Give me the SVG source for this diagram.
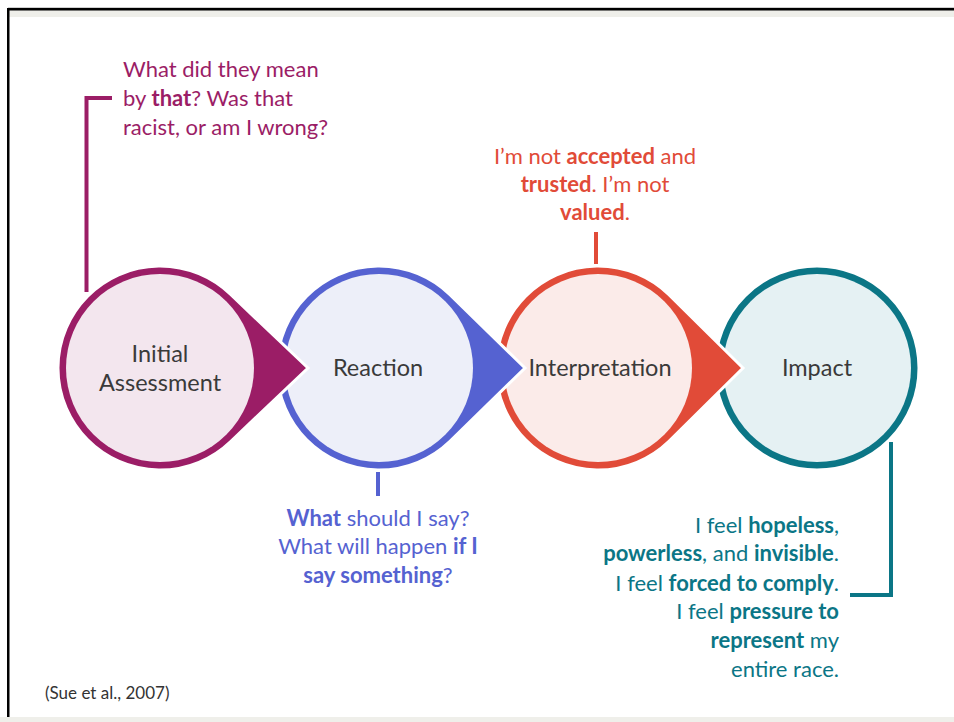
<svg xmlns="http://www.w3.org/2000/svg" width="954" height="722" viewBox="0 0 954 722">
<defs>
<style>
.t{font-family:Lato,"Open Sans","Liberation Sans",sans-serif;font-size:22px}
.b{font-weight:700}
.lbl{font-family:Lato,"Open Sans","Liberation Sans",sans-serif;font-size:23.5px;fill:#3a3a3a;text-anchor:middle}
.tail{stroke:#ffffff;stroke-width:3}
.conn{fill:none;stroke-width:4}
</style>
</defs>
<rect x="0" y="0" width="954" height="722" fill="#ffffff"/>
<g id="frame">
<rect x="8" y="7" width="946" height="1" fill="#cfcfcf"/>
<rect x="8" y="10" width="946" height="7" fill="#efefea"/>
<rect x="0" y="717" width="954" height="5" fill="#efefea"/>
<rect x="7" y="8" width="947" height="2.5" fill="#000000"/>
<rect x="7" y="8" width="2.5" height="709" fill="#000000"/>
</g>
<g id="connectors">
<path class="conn" stroke="#9b1d66" d="M86.5,292 V98 H112"/>
<path class="conn" stroke="#5562d1" d="M378,472 V496"/>
<path class="conn" stroke="#e14b38" d="M596,232 V264"/>
<path class="conn" stroke="#0b7686" d="M891,442 V595 H850"/>
</g>
<g id="impact">
<circle cx="817" cy="368" r="102" fill="#0b7686" stroke="#ffffff" stroke-width="3"/>
<circle cx="817" cy="368" r="94" fill="#e5f1f3"/>
<text class="lbl" x="817" y="376">Impact</text>
</g>
<g id="interpretation">
<path class="tail" fill="#e14b38" d="M743,368 L668.7,294.5 A102,102 0 1 0 668.7,441.5 Z"/>
<circle cx="598" cy="368" r="94" fill="#fbebe9"/>
<text class="lbl" x="600" y="376">Interpretation</text>
</g>
<g id="reaction">
<path class="tail" fill="#5562d1" d="M525,368 L449.7,294.5 A102,102 0 1 0 449.7,441.5 Z"/>
<circle cx="379" cy="368" r="94" fill="#edeff9"/>
<text class="lbl" x="378" y="376">Reaction</text>
</g>
<g id="initial-assessment">
<path class="tail" fill="#9b1d66" d="M308,368 L230.7,294.5 A102,102 0 1 0 230.7,441.5 Z"/>
<circle cx="160" cy="368" r="94" fill="#f3e6ee"/>
<text class="lbl" x="160" y="362">Initial</text>
<text class="lbl" x="160" y="391">Assessment</text>
</g>
<g id="note-initial" class="t" fill="#9b1d66">
<text x="123" y="77">What did they mean</text>
<text x="123" y="106">by <tspan class="b">that</tspan>? Was that</text>
<text x="123" y="135">racist, or am I wrong?</text>
</g>
<g id="note-interpretation" class="t" fill="#e14b38" text-anchor="middle">
<text x="595" y="164">I’m not <tspan class="b">accepted</tspan> and</text>
<text x="595" y="192"><tspan class="b">trusted</tspan>. I’m not</text>
<text x="595" y="220"><tspan class="b">valued</tspan>.</text>
</g>
<g id="note-reaction" class="t" fill="#5562d1" text-anchor="middle">
<text x="378" y="526"><tspan class="b">What</tspan> should I say?</text>
<text x="378" y="554">What will happen <tspan class="b">if I</tspan></text>
<text x="378" y="583"><tspan class="b">say something</tspan>?</text>
</g>
<g id="note-impact" class="t" fill="#0b7686" text-anchor="end">
<text x="839" y="533">I feel <tspan class="b">hopeless</tspan>,</text>
<text x="839" y="561"><tspan class="b">powerless</tspan>, and <tspan class="b">invisible</tspan>.</text>
<text x="839" y="591">I feel <tspan class="b">forced to comply</tspan>.</text>
<text x="839" y="619">I feel <tspan class="b">pressure to</tspan></text>
<text x="839" y="648"><tspan class="b">represent</tspan> my</text>
<text x="839" y="677">entire race.</text>
</g>
<text id="citation" x="45" y="699" font-family="Lato,'Open Sans','Liberation Sans',sans-serif" font-size="17" fill="#333333">(Sue et al., 2007)</text>
</svg>
